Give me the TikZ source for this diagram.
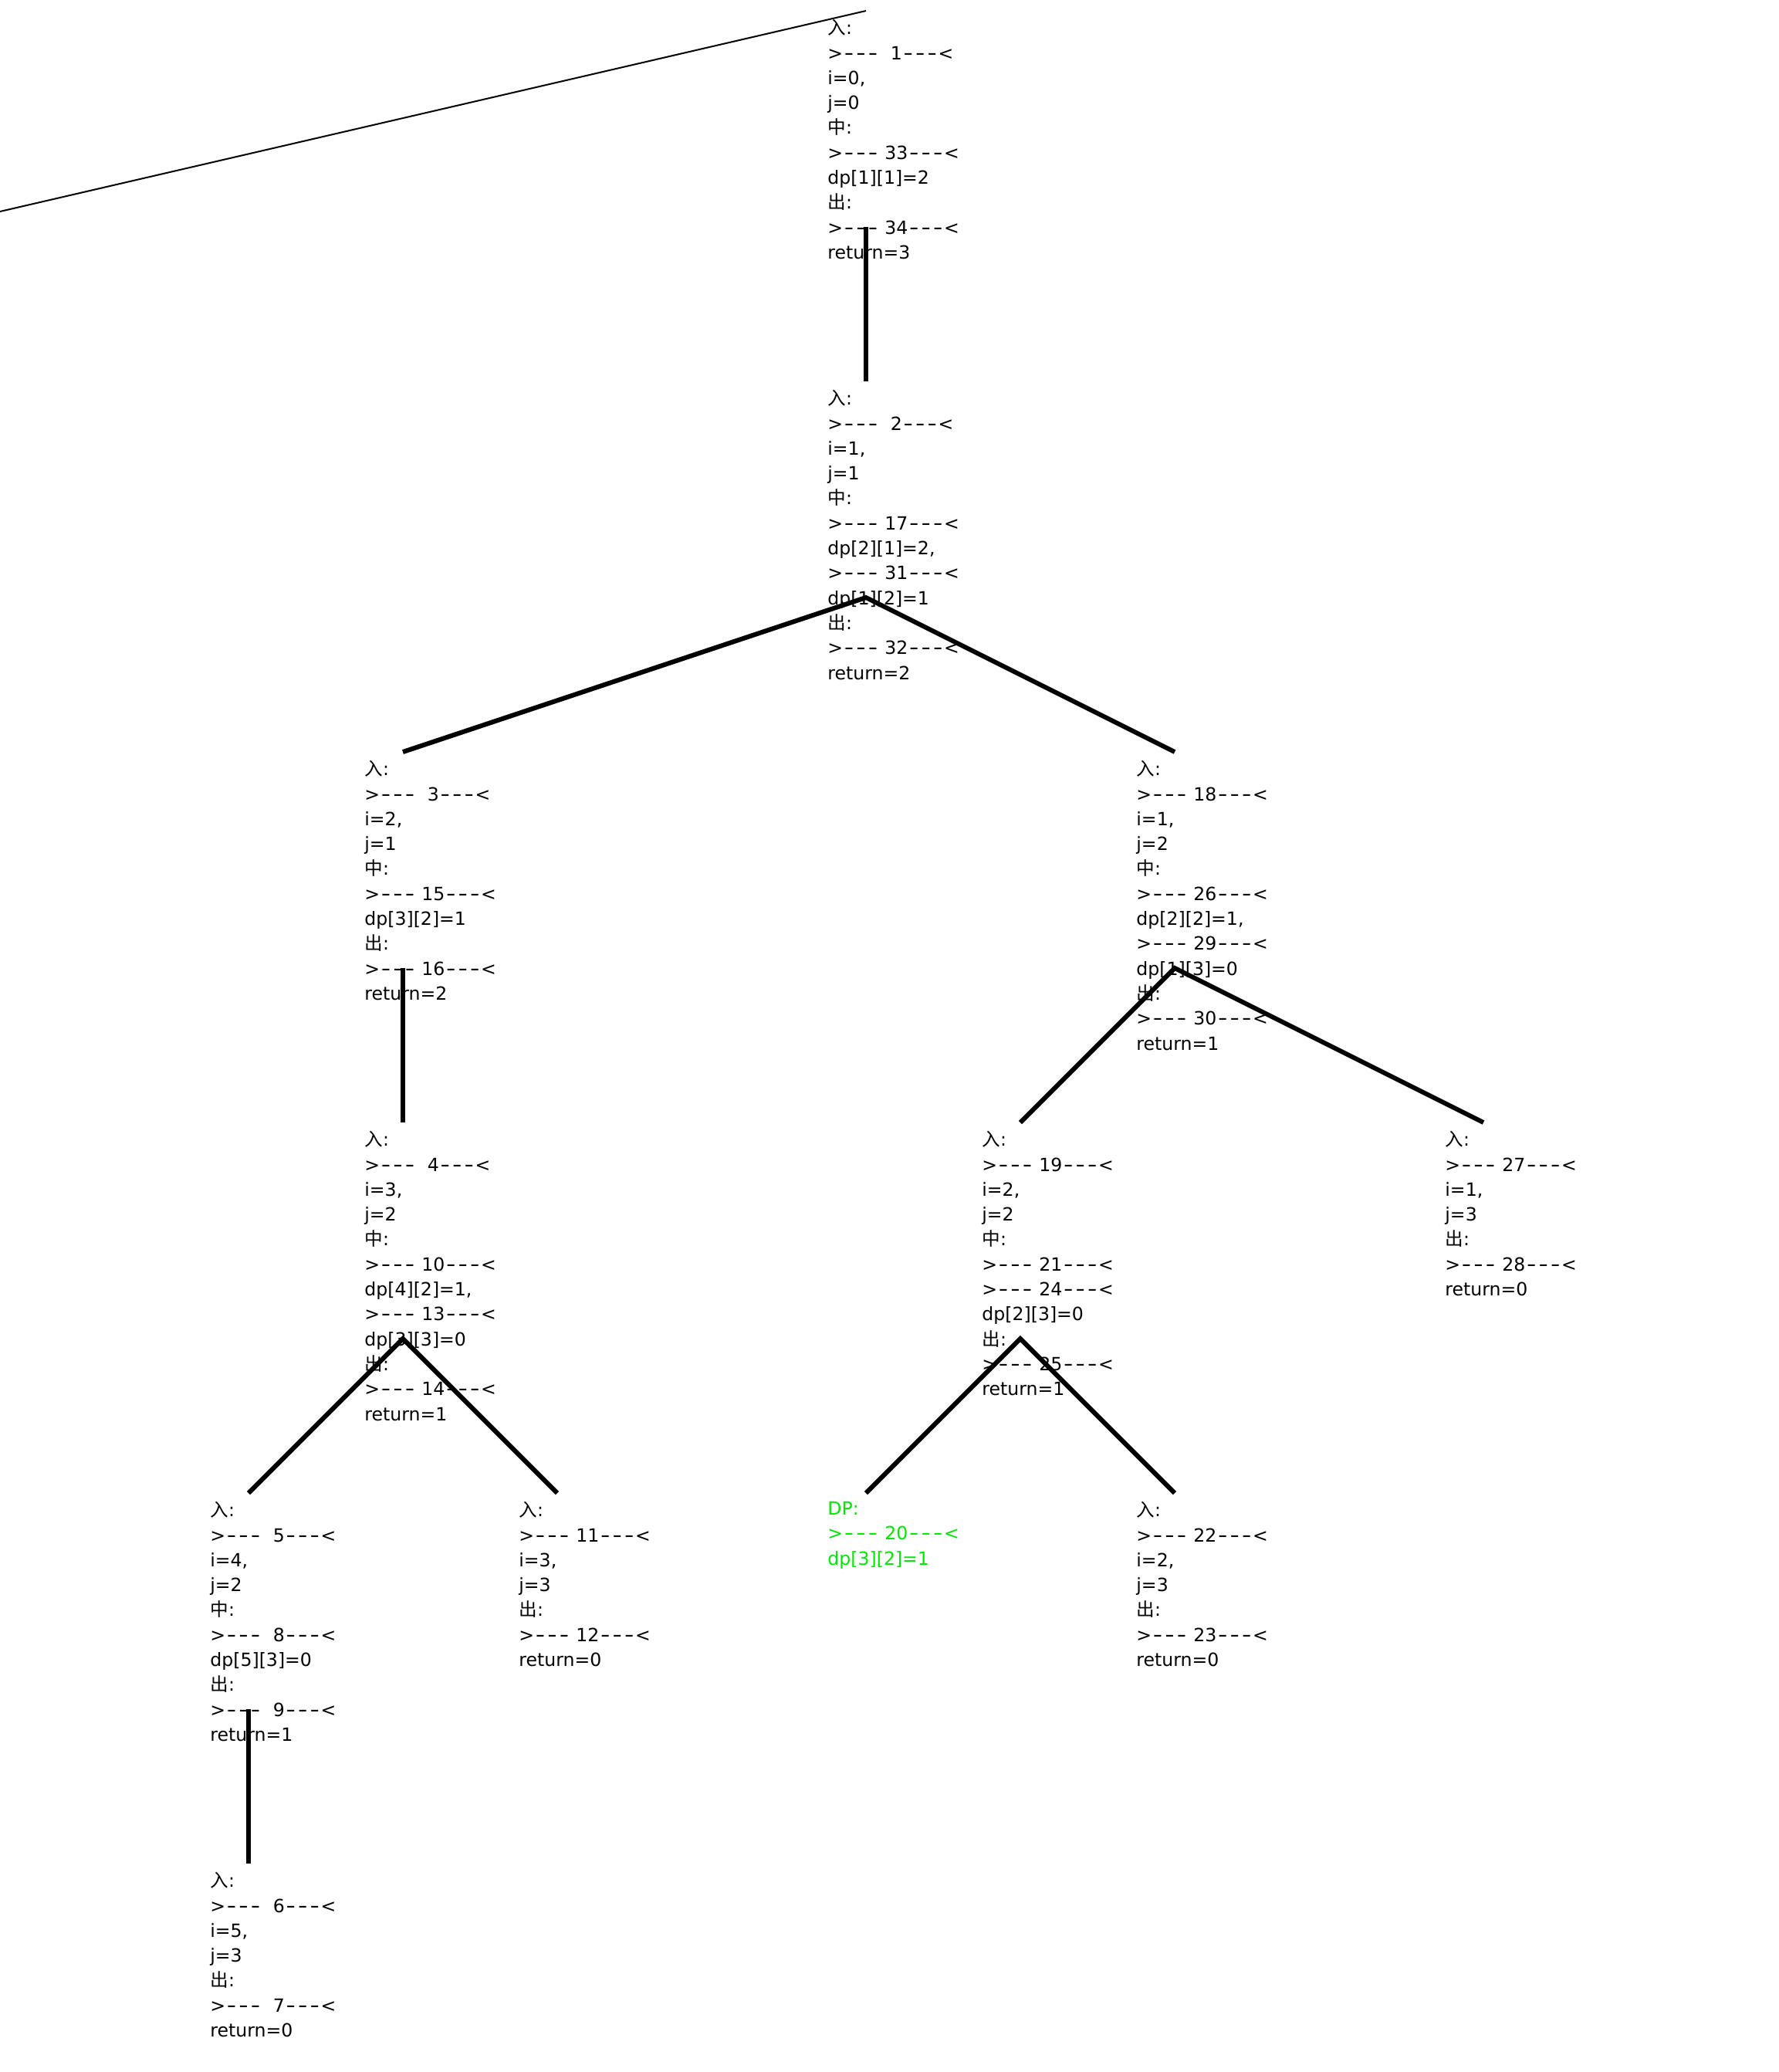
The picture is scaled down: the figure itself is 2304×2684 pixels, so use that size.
\documentclass[tikz,border=0pt]{standalone}
\usepackage{fontspec}
\setmainfont{DejaVu Sans}
\newfontfamily\cjk{Noto Sans CJK SC}
\definecolor{dpgreen}{RGB}{0,230,0}
\newcommand{\dd}{\makebox[0.66em]{\scalebox{1.45}[1.1]{-}}}
\tikzset{
  cell/.style={minimum width=50pt, minimum height=140pt,
               inner sep=0pt, outer sep=0pt, anchor=north west},
  txt/.style={anchor=north west, inner sep=0pt, align=left,
              yshift=-5.5pt, font=\fontsize{11.8}{16.15}\selectfont},
  edge/.style={line width=3pt, black, line join=miter},
  link/.style={line width=1pt, black},
}

\begin{document}
\begin{tikzpicture}[x=0.5pt, y=-0.5pt]
\useasboundingbox (0,0) rectangle (2304,2684);

%% ============================================================
%% CELLS (fixed frames, 100 x 280)
%% ============================================================
\node[cell] (c1)  at (1072, 14)   {};
\node[cell] (c2)  at (1072, 494)  {};
\node[cell] (c3)  at (472,  974)  {};
\node[cell] (c18) at (1472, 974)  {};
\node[cell] (c4)  at (472,  1454) {};
\node[cell] (c19) at (1272, 1454) {};
\node[cell] (c27) at (1872, 1454) {};
\node[cell] (c5)  at (272,  1934) {};
\node[cell] (c11) at (672,  1934) {};
\node[cell] (c20) at (1072, 1934) {};
\node[cell] (c22) at (1472, 1934) {};
\node[cell] (c6)  at (272,  2414) {};

\coordinate (offpar) at (0, 274);

%% ============================================================
%% TEXTS
%% ============================================================
\node[txt] (t1) at (c1.north west)
  {{\cjk 入}:\\>\dd\dd\dd\ \ 1\dd\dd\dd<\\i=0,\\j=0\\{\cjk 中}:\\
   >\dd\dd\dd\ 33\dd\dd\dd<\\dp[1][1]=2\\{\cjk 出}:\\
   >\dd\dd\dd\ 34\dd\dd\dd<\\return=3};

\node[txt] (t2) at (c2.north west)
  {{\cjk 入}:\\>\dd\dd\dd\ \ 2\dd\dd\dd<\\i=1,\\j=1\\{\cjk 中}:\\
   >\dd\dd\dd\ 17\dd\dd\dd<\\dp[2][1]=2,\\>\dd\dd\dd\ 31\dd\dd\dd<\\
   dp[1][2]=1\\{\cjk 出}:\\>\dd\dd\dd\ 32\dd\dd\dd<\\return=2};

\node[txt] (t3) at (c3.north west)
  {{\cjk 入}:\\>\dd\dd\dd\ \ 3\dd\dd\dd<\\i=2,\\j=1\\{\cjk 中}:\\
   >\dd\dd\dd\ 15\dd\dd\dd<\\dp[3][2]=1\\{\cjk 出}:\\
   >\dd\dd\dd\ 16\dd\dd\dd<\\return=2};

\node[txt] (t18) at (c18.north west)
  {{\cjk 入}:\\>\dd\dd\dd\ 18\dd\dd\dd<\\i=1,\\j=2\\{\cjk 中}:\\
   >\dd\dd\dd\ 26\dd\dd\dd<\\dp[2][2]=1,\\>\dd\dd\dd\ 29\dd\dd\dd<\\
   dp[1][3]=0\\{\cjk 出}:\\>\dd\dd\dd\ 30\dd\dd\dd<\\return=1};

\node[txt] (t4) at (c4.north west)
  {{\cjk 入}:\\>\dd\dd\dd\ \ 4\dd\dd\dd<\\i=3,\\j=2\\{\cjk 中}:\\
   >\dd\dd\dd\ 10\dd\dd\dd<\\dp[4][2]=1,\\>\dd\dd\dd\ 13\dd\dd\dd<\\
   dp[3][3]=0\\{\cjk 出}:\\>\dd\dd\dd\ 14\dd\dd\dd<\\return=1};

\node[txt] (t19) at (c19.north west)
  {{\cjk 入}:\\>\dd\dd\dd\ 19\dd\dd\dd<\\i=2,\\j=2\\{\cjk 中}:\\
   >\dd\dd\dd\ 21\dd\dd\dd<\\>\dd\dd\dd\ 24\dd\dd\dd<\\dp[2][3]=0\\
   {\cjk 出}:\\>\dd\dd\dd\ 25\dd\dd\dd<\\return=1};

\node[txt] (t27) at (c27.north west)
  {{\cjk 入}:\\>\dd\dd\dd\ 27\dd\dd\dd<\\i=1,\\j=3\\{\cjk 出}:\\
   >\dd\dd\dd\ 28\dd\dd\dd<\\return=0};

\node[txt] (t5) at (c5.north west)
  {{\cjk 入}:\\>\dd\dd\dd\ \ 5\dd\dd\dd<\\i=4,\\j=2\\{\cjk 中}:\\
   >\dd\dd\dd\ \ 8\dd\dd\dd<\\dp[5][3]=0\\{\cjk 出}:\\
   >\dd\dd\dd\ \ 9\dd\dd\dd<\\return=1};

\node[txt] (t11) at (c11.north west)
  {{\cjk 入}:\\>\dd\dd\dd\ 11\dd\dd\dd<\\i=3,\\j=3\\{\cjk 出}:\\
   >\dd\dd\dd\ 12\dd\dd\dd<\\return=0};

%% memo hit
\node[txt, text=dpgreen] (t20) at (c20.north west)
  {DP:\\>\dd\dd\dd\ 20\dd\dd\dd<\\dp[3][2]=1};

\node[txt] (t22) at (c22.north west)
  {{\cjk 入}:\\>\dd\dd\dd\ 22\dd\dd\dd<\\i=2,\\j=3\\{\cjk 出}:\\
   >\dd\dd\dd\ 23\dd\dd\dd<\\return=0};

\node[txt] (t6) at (c6.north west)
  {{\cjk 入}:\\>\dd\dd\dd\ \ 6\dd\dd\dd<\\i=5,\\j=3\\{\cjk 出}:\\
   >\dd\dd\dd\ \ 7\dd\dd\dd<\\return=0};

%% ============================================================
%% CONNECTORS
%% ============================================================
\draw[link] (offpar) -- (c1.north);
\draw[edge] (c1.south) -- (c2.north);
\draw[edge] (c3.north) -- (c2.south) -- (c18.north);
\draw[edge] (c3.south) -- (c4.north);
\draw[edge] (c19.north) -- (c18.south) -- (c27.north);
\draw[edge] (c5.north) -- (c4.south) -- (c11.north);
\draw[edge] (c20.north) -- (c19.south) -- (c22.north);
\draw[edge] (c5.south) -- (c6.north);

\end{tikzpicture}
\end{document}
